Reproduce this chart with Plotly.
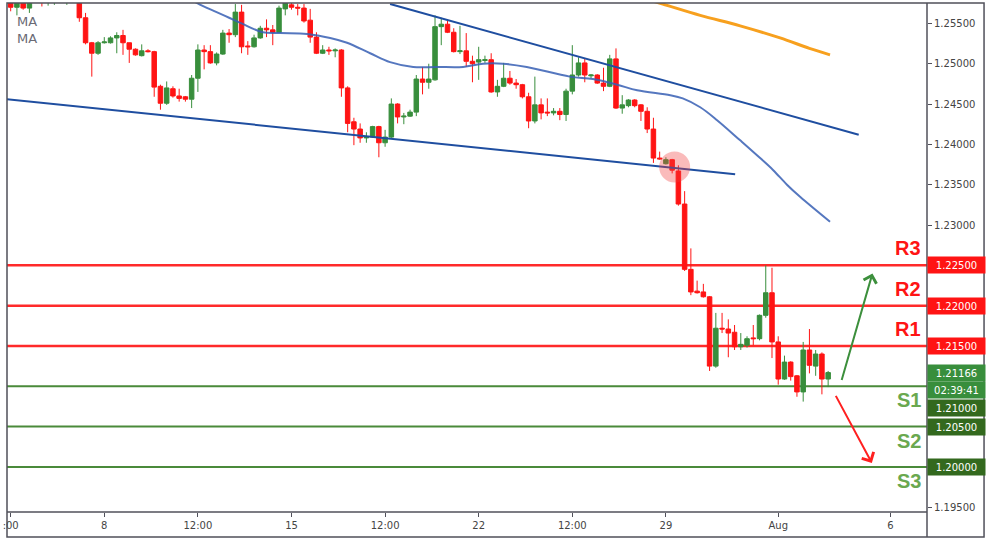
import plotly.graph_objects as go

# ---------------- data ----------------
candle_idx = list(range(-15, 117))  # H4 bars, 0 = Jul 8 00:00 (weekends removed)

opens = [1.2580,1.2570,1.2581,1.2569,1.2580,1.2585,1.2580,1.2586,1.2590,1.2585,
         1.2592,1.2590,1.2557,1.2526,1.2513,1.2526,1.2526,1.2532,1.2535,1.2526,
         1.2518,1.2510,1.2516,1.2515,1.2472,1.2451,1.2469,1.2460,1.2459,1.2456,
         1.2482,1.2517,1.2515,1.2501,1.2512,1.2538,1.2536,1.2564,1.2522,1.2521,
         1.2532,1.2544,1.2542,1.2539,1.2568,1.2573,1.2570,1.2569,1.2554,1.2533,
         1.2513,1.2517,1.2516,1.2517,1.2470,1.2428,1.2419,1.2408,1.2409,1.2422,
         1.2402,1.2409,1.2450,1.2434,1.2435,1.2440,1.2481,1.2477,1.2480,1.2546,
         1.2549,1.2539,1.2515,1.2516,1.2503,1.2502,1.2504,1.2505,1.2465,1.2472,
         1.2482,1.2476,1.2474,1.2459,1.2429,1.2449,1.2440,1.2439,1.2441,1.2437,
         1.2466,1.2486,1.2501,1.2485,1.2486,1.2476,1.2472,1.2506,1.2445,1.2448,
         1.2455,1.2449,1.2441,1.2419,1.2383,1.2376,1.2381,1.2367,1.2326,1.2245,
         1.2218,1.2217,1.2211,1.2125,1.2172,1.2171,1.2167,1.2149,1.2151,1.2160,
         1.2159,1.2188,1.2216,1.2155,1.2109,1.2130,1.2113,1.2093,1.2145,1.2125,
         1.2140,1.2109]
highs = [1.2583,1.2584,1.2584,1.2583,1.2588,1.2588,1.2590,1.2594,1.2596,1.2596,
         1.2598,1.2595,1.2563,1.2527,1.2528,1.2533,1.2534,1.2539,1.2542,1.2526,
         1.2519,1.2524,1.2518,1.2516,1.2474,1.2478,1.2472,1.2469,1.2460,1.2486,
         1.2524,1.2523,1.2523,1.2514,1.2542,1.2543,1.2574,1.2573,1.2528,1.2536,
         1.2547,1.2555,1.2548,1.2572,1.2580,1.2577,1.2574,1.2574,1.2568,1.2539,
         1.2523,1.2521,1.2519,1.2518,1.2472,1.2433,1.2426,1.2415,1.2423,1.2423,
         1.2418,1.2457,1.2451,1.2439,1.2443,1.2486,1.2496,1.2500,1.2560,1.2557,
         1.2555,1.2544,1.2547,1.2538,1.2510,1.2521,1.2510,1.2513,1.2480,1.2501,
         1.2491,1.2481,1.2475,1.2464,1.2484,1.2457,1.2457,1.2445,1.2445,1.2469,
         1.2523,1.2508,1.2507,1.2487,1.2487,1.2495,1.2511,1.2519,1.2461,1.2456,
         1.2456,1.2450,1.2446,1.2433,1.2391,1.2384,1.2382,1.2374,1.2342,1.2271,
         1.2231,1.2227,1.2212,1.2191,1.2191,1.2183,1.2176,1.2166,1.2162,1.2176,
         1.2189,1.2250,1.2247,1.2162,1.2138,1.2131,1.2114,1.2155,1.2171,1.2145,
         1.2142,1.2119]
lows = [1.2565,1.2560,1.2567,1.2563,1.2578,1.2571,1.2572,1.2573,1.2582,1.2573,
        1.2580,1.2552,1.2524,1.2484,1.2511,1.2525,1.2525,1.2513,1.2511,1.2501,
        1.2510,1.2509,1.2514,1.2459,1.2443,1.2449,1.2458,1.2453,1.2453,1.2445,
        1.2465,1.2493,1.2500,1.2498,1.2511,1.2526,1.2533,1.2513,1.2511,1.2520,
        1.2531,1.2533,1.2523,1.2538,1.2560,1.2567,1.2560,1.2551,1.2526,1.2512,
        1.2512,1.2511,1.2508,1.2459,1.2415,1.2399,1.2402,1.2402,1.2408,1.2384,
        1.2397,1.2408,1.2426,1.2425,1.2434,1.2435,1.2462,1.2469,1.2479,1.2523,
        1.2538,1.2514,1.2512,1.2496,1.2477,1.2480,1.2501,1.2464,1.2459,1.2471,
        1.2474,1.2469,1.2457,1.2420,1.2426,1.2431,1.2435,1.2436,1.2430,1.2429,
        1.2462,1.2484,1.2477,1.2482,1.2475,1.2466,1.2471,1.2444,1.2438,1.2446,
        1.2446,1.2429,1.2414,1.2377,1.2381,1.2375,1.2364,1.2324,1.2243,1.2213,
        1.2215,1.2210,1.2119,1.2123,1.2166,1.2136,1.2145,1.2145,1.2148,1.2151,
        1.2157,1.2185,1.2135,1.2102,1.2108,1.2107,1.2087,1.2081,1.2116,1.2113,
        1.2090,1.2099]
closes = [1.2570,1.2581,1.2569,1.2580,1.2585,1.2580,1.2586,1.2590,1.2592,1.2592,
          1.2590,1.2557,1.2526,1.2513,1.2526,1.2527,1.2532,1.2535,1.2526,1.2518,
          1.2511,1.2516,1.2515,1.2471,1.2451,1.2470,1.2460,1.2457,1.2456,1.2482,
          1.2517,1.2515,1.2501,1.2512,1.2538,1.2536,1.2564,1.2521,1.2521,1.2532,
          1.2544,1.2542,1.2539,1.2569,1.2576,1.2570,1.2569,1.2553,1.2533,1.2513,
          1.2517,1.2516,1.2517,1.2470,1.2426,1.2419,1.2408,1.2409,1.2422,1.2402,
          1.2409,1.2450,1.2434,1.2435,1.2440,1.2481,1.2477,1.2481,1.2546,1.2549,
          1.2539,1.2515,1.2516,1.2503,1.2500,1.2505,1.2505,1.2465,1.2472,1.2482,
          1.2476,1.2474,1.2459,1.2429,1.2449,1.2439,1.2439,1.2441,1.2437,1.2466,
          1.2486,1.2501,1.2486,1.2486,1.2476,1.2472,1.2506,1.2445,1.2449,1.2455,
          1.2448,1.2441,1.2419,1.2383,1.2382,1.2381,1.2368,1.2326,1.2245,1.2217,
          1.2216,1.2211,1.2125,1.2172,1.2171,1.2166,1.2149,1.2152,1.2159,1.2159,
          1.2188,1.2216,1.2155,1.2109,1.2130,1.2112,1.2093,1.2145,1.2126,1.2140,
          1.2109,1.2117]

# moving averages
ma_fast_idx = [10, 14.9, 18, 20, 22, 25.4, 28.2, 32.5, 36.2, 38.9, 42.6, 45.8, 49.5, 53.3,
               57.5, 60.7, 63.9, 67.7, 74.6, 78.3, 82.2, 85.4, 90.7, 92.7, 95.5, 98.2,
               101.9, 105.1, 107.2, 109.4, 111.5, 116.3]
ma_fast_val = [1.2600, 1.2575, 1.2564, 1.2557, 1.2550, 1.2539, 1.2538, 1.2537, 1.2532,
               1.2526, 1.2513, 1.2502, 1.2496, 1.2496, 1.2496, 1.2500, 1.2500, 1.2496,
               1.2484, 1.2481, 1.2474, 1.2467, 1.2461, 1.2457, 1.2446, 1.2430, 1.2405,
               1.2383, 1.2368, 1.2350, 1.2335, 1.2304]
ma_slow_idx = [86, 89.5, 95.5, 101.9, 108.3, 113, 116.3]
ma_slow_val = [1.2582, 1.2574, 1.2560, 1.2547, 1.2532, 1.2519, 1.2511]

# trend lines
upper_trend_idx = [45.8, 120.9]
upper_trend_val = [1.2574, 1.2412]
lower_trend_idx = [-15.6, 101.1]
lower_trend_val = [1.2456, 1.2363]

# support / resistance levels
res_names = ["R3", "R2", "R1"]
res_levels = [1.2250, 1.2200, 1.2150]
sup_names = ["S1", "S2", "S3"]
sup_levels = [1.2100, 1.2050, 1.2000]
last_price = 1.21166
countdown = "02:39:41"

# axis ticks
price_ticks = [1.195, 1.200, 1.205, 1.210, 1.215, 1.220, 1.225,
               1.230, 1.235, 1.240, 1.245, 1.250, 1.255]
tick_idx = [-15, 0, 15, 30, 45, 60, 75, 90, 108, 126]
tick_text = [":00", "8", "12:00", "15", "12:00", "22", "12:00", "29", "Aug", "6"]

# breakout marker & scenario arrows
marker_pt = (91.4, 1.2372)
up_arrow = ((118.1, 1.2106), (123.1, 1.2240))
down_arrow = ((117.1, 1.2090), (123.0, 1.2005))

# ---------------- styling ----------------
RED = "#ff1414"
GREEN = "#388e3c"
DKGREEN = "#33691e"
FONT = "DejaVu Sans"

fig = go.Figure()

fig.add_trace(go.Candlestick(
    x=candle_idx, open=opens, high=highs, low=lows, close=closes,
    increasing=dict(line=dict(color=GREEN, width=1), fillcolor=GREEN),
    decreasing=dict(line=dict(color=RED, width=1), fillcolor=RED),
    whiskerwidth=0, hoverinfo="skip", showlegend=False))

fig.add_trace(go.Scatter(x=ma_fast_idx, y=ma_fast_val, mode="lines",
                         line=dict(color="rgba(55,95,180,0.85)", width=2, shape="spline"),
                         hoverinfo="skip", showlegend=False))
fig.add_trace(go.Scatter(x=ma_slow_idx, y=ma_slow_val, mode="lines",
                         line=dict(color="#f7a01e", width=3, shape="spline"),
                         hoverinfo="skip", showlegend=False))
fig.add_trace(go.Scatter(x=upper_trend_idx, y=upper_trend_val, mode="lines",
                         line=dict(color="#1f4ea0", width=2),
                         hoverinfo="skip", showlegend=False))
fig.add_trace(go.Scatter(x=lower_trend_idx, y=lower_trend_val, mode="lines",
                         line=dict(color="#1f4ea0", width=2),
                         hoverinfo="skip", showlegend=False))

shapes = []
annotations = []

for lvl in res_levels:
    shapes.append(dict(type="line", xref="paper", x0=0, x1=1, yref="y", y0=lvl, y1=lvl,
                       line=dict(color="#ff2a2a", width=2.5), layer="below"))
for lvl in sup_levels:
    shapes.append(dict(type="line", xref="paper", x0=0, x1=1, yref="y", y0=lvl, y1=lvl,
                       line=dict(color="#4a8a3a", width=2), layer="below"))

# frame
frame_col = "#50505a"
shapes.append(dict(type="rect", xref="paper", yref="paper", x0=0, x1=1.062, y0=-0.0491, y1=1,
                   line=dict(color=frame_col, width=1.5)))
shapes.append(dict(type="line", xref="paper", yref="paper", x0=1, x1=1, y0=-0.0491, y1=1,
                   line=dict(color=frame_col, width=1.5)))
shapes.append(dict(type="line", xref="paper", yref="paper", x0=0, x1=1, y0=0, y1=0,
                   line=dict(color=frame_col, width=1.5)))

# pink breakout circle
shapes.append(dict(type="circle", xref="x", yref="y", xsizemode="pixel", ysizemode="pixel",
                   xanchor=marker_pt[0], yanchor=marker_pt[1], x0=-15.5, x1=15.5, y0=-15.5, y1=15.5,
                   fillcolor="rgba(240,60,60,0.35)", line=dict(width=0), layer="above"))

# R / S text labels
for name, lvl in zip(res_names, res_levels):
    annotations.append(dict(xref="paper", x=1, xanchor="right", xshift=-4, yref="y", y=lvl,
                            yshift=17, yanchor="middle", text="<b>%s</b>" % name, showarrow=False,
                            font=dict(family="Liberation Sans, Arial", size=20, color=RED)))
for name, lvl in zip(sup_names, sup_levels):
    annotations.append(dict(xref="paper", x=1, xanchor="right", xshift=-4, yref="y", y=lvl,
                            yshift=-14, yanchor="middle", text="<b>%s</b>" % name, showarrow=False,
                            font=dict(family="Liberation Sans, Arial", size=20, color="#6aa84f")))

# price boxes on the axis
def price_box(y, text, bg, yshift=0):
    annotations.append(dict(xref="paper", x=1, xanchor="left", yref="y", y=y, yanchor="middle",
                            yshift=yshift, text=text, showarrow=False, bgcolor=bg,
                            width=53, height=12, borderpad=2, align="center",
                            font=dict(family=FONT, size=10, color="white")))

for lvl in res_levels:
    price_box(lvl, "%.5f" % lvl, RED)
price_box(last_price, "%.5f" % last_price, GREEN)
price_box(last_price, countdown, GREEN, yshift=-17.5)
price_box(sup_levels[0], "%.5f" % sup_levels[0], DKGREEN, yshift=-21.5)
for lvl in sup_levels[1:]:
    price_box(lvl, "%.5f" % lvl, DKGREEN)

# axis tick labels: levels shown in boxes are not repeated underneath
boxed = set(round(v, 4) for v in res_levels + sup_levels)
price_tick_text = ["" if round(v, 4) in boxed else "%.5f" % v for v in price_ticks]

# MA legend text
for i, t in enumerate(["MA", "MA"]):
    annotations.append(dict(xref="paper", yref="paper", x=0.0087, y=0.9646 - i * 0.0335,
                            xanchor="left", yanchor="middle", text=t, showarrow=False,
                            font=dict(family=FONT, size=13, color="#6a6a75")))

# arrows
for (tail, head), col in [(up_arrow, "#3c8f3c"), (down_arrow, "#ff2020")]:
    annotations.append(dict(x=head[0], y=head[1], ax=tail[0], ay=tail[1], xref="x", yref="y",
                            axref="x", ayref="y", text="", showarrow=True, arrowhead=4,
                            arrowsize=1.3, arrowwidth=2, arrowcolor=col, standoff=0))

fig.update_layout(
    width=991, height=541,
    margin=dict(l=7, r=64, t=3, b=29),
    paper_bgcolor="white", plot_bgcolor="white",
    showlegend=False, boxgap=0.2, boxgroupgap=0.1,
    shapes=shapes, annotations=annotations,
    xaxis=dict(range=[-15.59, 131.84], tickvals=tick_idx, ticktext=tick_text,
               ticks="outside", ticklen=4, tickcolor=frame_col, showgrid=False, zeroline=False,
               showline=False, rangeslider=dict(visible=False),
               tickfont=dict(family=FONT, size=10, color="#444")),
    yaxis=dict(side="right", range=[1.19441, 1.25753], tickvals=price_ticks,
               ticktext=price_tick_text, ticks="outside", ticklen=4, tickcolor=frame_col,
               showgrid=False, zeroline=False, showline=False,
               tickfont=dict(family=FONT, size=10, color="#444")),
)

fig.write_html("out.html")
